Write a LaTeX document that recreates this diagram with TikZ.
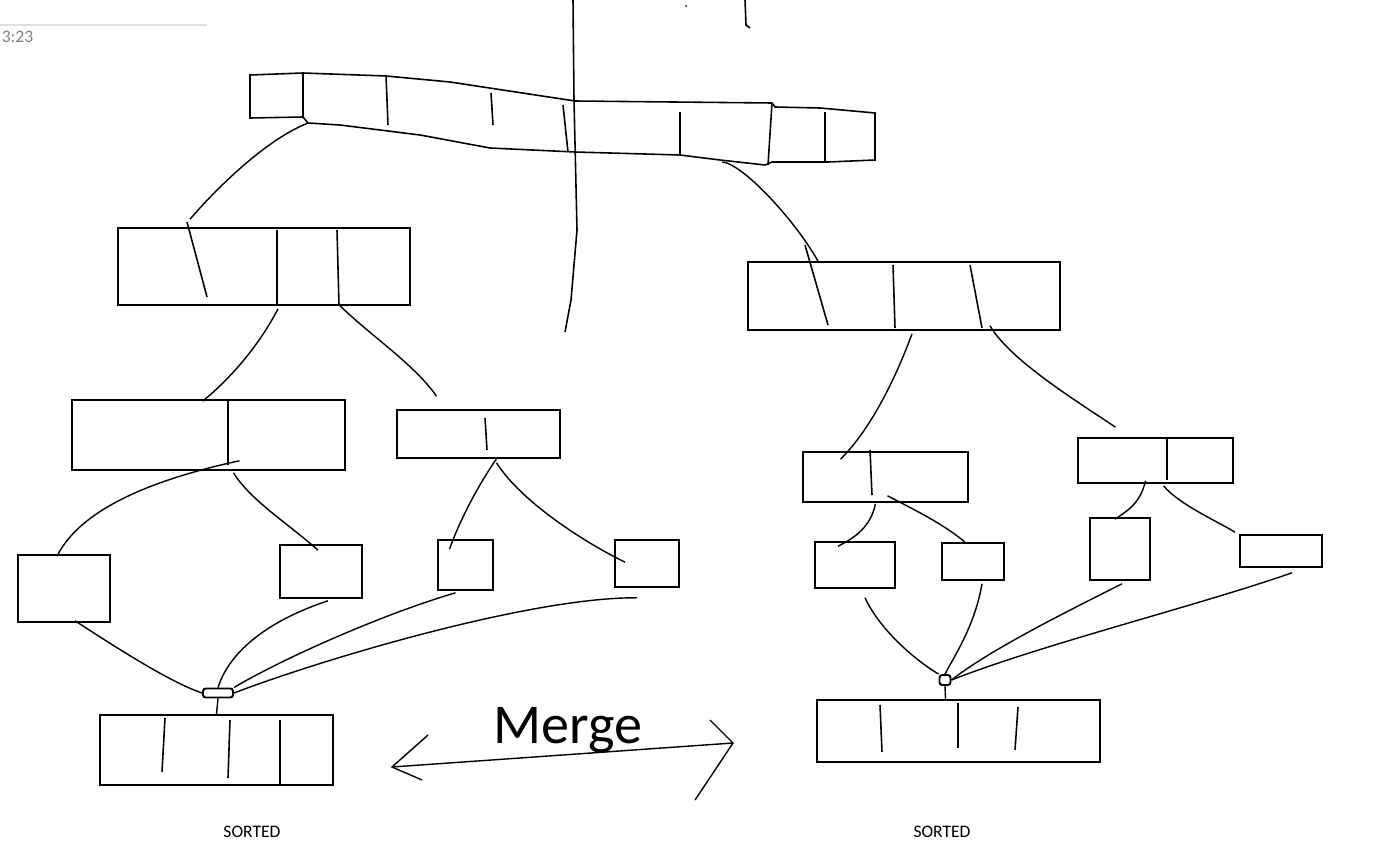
\documentclass[tikz,border=0pt]{standalone}
\usepackage{fontspec}
\setmainfont{Carlito}
\usetikzlibrary{calc}

\tikzset{
  arr/.style={draw,line width=0.9pt,inner sep=0pt},
  knot/.style={draw,line width=1.1pt,rounded corners=1.5pt,inner sep=0pt},
  link/.style={line width=0.8pt},
  label/.style={font=\fontsize{10}{12}\selectfont}
}

\begin{document}
\begin{tikzpicture}[x=0.02cm,y=-0.02cm,line width=0.9pt]
\useasboundingbox (0,0) rectangle (1388,858);
% corner of the screen capture
\draw[gray!25,line width=0.6pt] (0,25) -- (207,25);
\node[label,anchor=west,inner sep=0pt,text=gray] (clock) at (1,37) {3:23};

% split line
\draw (573,0) -- (574,100) -- (577,230) -- (571,300) -- (565,332);
\draw (745,0) -- (746,25) -- (750,28);
\fill (686,6) circle (1);

% whole list
\draw (250,75) -- (303,73) -- (386,76) -- (450,82) -- (575,101) -- (772,103)
  -- (775,107) -- (820,108) -- (875,113) -- (875,160) -- (828,162) -- (772,162)
  -- (765,165) -- (720,160) -- (680,155) -- (575,152) -- (490,148) -- (420,135)
  -- (340,125) -- (308,123) -- (303,117) -- (250,118) -- cycle;
\foreach \xa/\a/\xb/\b in {303/73/303/117,386/75/388/125,491/93/493/125,563/105/568/152,680/112/680/155,772/103/768/165,825/112/825/162}
  \draw (\xa,\a) -- (\xb,\b);
\coordinate (tL) at (308,123);
\coordinate (tR) at (722,162);

% halves
\node[arr,minimum width=5.84cm,minimum height=1.54cm] (L1) at (264,266.5) {};
\node[arr,minimum width=6.24cm,minimum height=1.36cm] (R1) at (904,296) {};
\foreach \xa/\a/\xb/\b in {187/222/207/297,277/230/277/305,337/230/339/305,805/245/828/325,893/265/895/328,970/265/982/328}
  \draw (\xa,\a) -- (\xb,\b);

% quarters
\node[arr,minimum width=5.46cm,minimum height=1.4cm] (L2a) at (208.5,435) {};
\node[arr,minimum width=3.26cm,minimum height=0.96cm] (L2b) at (478.5,434) {};
\node[arr,minimum width=3.3cm,minimum height=1cm] (R2a) at (885.5,477) {};
\node[arr,minimum width=3.1cm,minimum height=0.9cm] (R2b) at (1155.5,460.5) {};
\foreach \xa/\a/\xb/\b in {228/400/228/465,485/418/487/450,870/450/872/495,1167/438/1167/480}
  \draw (\xa,\a) -- (\xb,\b);

% single elements
\node[arr,minimum width=1.84cm,minimum height=1.34cm] (L3a) at (64,588.5) {};
\node[arr,minimum width=1.64cm,minimum height=1.06cm] (L3b) at (321,571.5) {};
\node[arr,minimum width=1.1cm,minimum height=1cm] (L3c) at (465.5,565) {};
\node[arr,minimum width=1.28cm,minimum height=0.94cm] (L3d) at (647,563.5) {};
\node[arr,minimum width=1.6cm,minimum height=0.92cm] (R3a) at (855,565) {};
\node[arr,minimum width=1.24cm,minimum height=0.74cm] (R3b) at (973,561.5) {};
\node[arr,minimum width=1.2cm,minimum height=1.24cm] (R3c) at (1120,549) {};
\node[arr,minimum width=1.64cm,minimum height=0.64cm] (R3d) at (1281,551) {};

% sorted lists
\node[arr,minimum width=4.66cm,minimum height=1.4cm] (Ls) at (216.5,750) {};
\node[arr,minimum width=5.66cm,minimum height=1.24cm] (Rs) at (958.5,731) {};
\foreach \xa/\a/\xb/\b in {165/718/162/772,230/720/228/778,280/720/280/785,880/705/882/752,958/703/958/748,1018/707/1015/750}
  \draw (\xa,\a) -- (\xb,\b);
\node[label] (sL) at (252,832) {SORTED};
\node[label] (sR) at (942,832) {SORTED};

% meeting points
\node[knot,minimum width=0.6cm,minimum height=0.18cm] (mL) at (218,693) {};
\node[knot,minimum width=0.22cm,minimum height=0.2cm] (mR) at (945,680) {};

% splitting
\draw[link] (tL) .. controls (265,140) and (215,190) .. ($(L1.north)+(-74,-8)$);
\draw[link] (tR) .. controls (742,163) and (795,220) .. ($(R1.north)+(-86,0)$);
\draw[link] ($(L1.south)+(14,3)$) .. controls (262,340) and (235,375) .. ($(L2a.north)+(-6,2)$);
\draw[link] ($(L1.south)+(76,0)$) .. controls (370,335) and (415,365) .. ($(L2b.north)+(-42,-13)$);
\draw[link] ($(R1.south)+(8,3)$) .. controls (895,380) and (870,430) .. ($(R2a.north)+(-45,8)$);
\draw[link] ($(R1.south)+(86,-5)$) .. controls (1010,360) and (1075,400) .. ($(R2b.north)+(-40,-10)$);
\draw[link] ($(L2a.south)+(31,-10)$) .. controls (150,480) and (80,510) .. ($(L3a.north)+(-7,2)$);
\draw[link] ($(L2a.south)+(25,2)$) .. controls (250,500) and (290,525) .. ($(L3b.north)+(-3,6)$);
\draw[link] ($(L2b.south)+(18,0)$) .. controls (475,490) and (458,525) .. ($(L3c.north)+(-16,10)$);
\draw[link] ($(L2b.south)+(18,4)$) .. controls (520,500) and (580,540) .. ($(L3d.north)+(-22,23)$);
\draw[link] ($(R2a.south)+(-10,1)$) .. controls (870,530) and (850,540) .. ($(R3a.north)+(-17,5)$);
\draw[link] ($(R2a.south)+(2,-7)$) .. controls (915,510) and (945,525) .. ($(R3b.north)+(-8,0)$);
\draw[link] ($(R2b.south)+(-10,-3)$) .. controls (1140,505) and (1125,512) .. ($(R3c.north)+(-5,2)$);
\draw[link] ($(R2b.south)+(8,2)$) .. controls (1180,505) and (1215,520) .. ($(R3d.north)+(-46,-2)$);

% merging
\draw[link] ($(L3a.south)+(11,-2)$) .. controls (120,650) and (170,682) .. (mL.west);
\draw[link] ($(L3b.south)+(7,2)$) .. controls (270,620) and (230,650) .. (mL.north);
\draw[link] ($(L3c.south)+(-10,2)$) .. controls (380,615) and (280,660) .. (mL.north east);
\draw[link] ($(L3d.south)+(-10,10)$) .. controls (530,597) and (320,660) .. (mL.east);
\draw[link] (mL.south) -- (Ls.north);
\draw[link] ($(R3a.south)+(10,9)$) .. controls (880,630) and (915,660) .. (mR.north west);
\draw[link] ($(R3b.south)+(9,3)$) .. controls (975,625) and (955,655) .. (mR.north);
\draw[link] ($(R3c.south)+(2,3)$) .. controls (1060,615) and (990,650) .. (mR.east);
\draw[link] ($(R3d.south)+(11,5)$) .. controls (1200,605) and (1040,645) .. (mR.east);
\draw[link] (mR.south) -- ($(Rs.north)+(-13,0)$);

% merge arrow
\coordinate (aL) at (392,767);
\coordinate (aR) at (733,743);
\draw[link] (aL) -- (aR);
\draw[link] (428,735) -- (aL) -- (422,780);
\draw[link] (710,720) -- (aR) -- (695,800);
\node[font=\fontsize{32}{36}\selectfont] (mg) at (568,730) {Merge};
\end{tikzpicture}
\end{document}
